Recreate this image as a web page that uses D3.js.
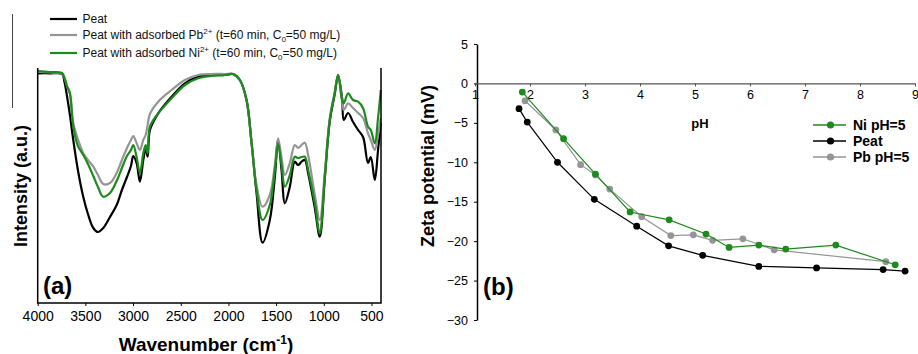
<!DOCTYPE html>
<html>
<head>
<meta charset="utf-8">
<script src="https://cdn.jsdelivr.net/npm/d3@7"></script>
<style>
  body { margin: 0; background: #fff; }
  svg { display: block; font-family: "Liberation Sans", Arial, Helvetica, sans-serif; }
</style>
</head>
<body>
<svg id="chart" width="918" height="354"></svg>
<script>
// ---- Panel (a): FTIR spectra ----
const wavenumbers = [4000, 3871, 3745, 3719, 3693, 3662, 3627, 3575, 3522, 3473, 3417, 3368, 3313, 3242,
  3172, 3117, 3064, 3022, 2998, 2963, 2928, 2893, 2868, 2847, 2823, 2736, 2596, 2456, 2317, 2177, 2037,
  1953, 1880, 1810, 1757, 1705, 1642, 1566, 1513, 1479, 1443, 1408, 1356, 1304, 1269, 1233, 1199, 1164,
  1094, 1042, 989, 937, 885, 850, 808, 790, 745, 693, 640, 588, 536, 507, 465, 431, 402];

const peat = [229.7, 229.7, 229, 221, 207, 188, 163, 131, 106, 89, 75, 71, 75, 86,
  98, 113, 126, 137, 147, 140, 121.3, 143, 154.7, 146.3, 173, 189.7, 206.3, 219.7, 226.3, 228, 228,
  229, 223, 203, 160, 110, 60.3, 83, 126.3, 163, 133, 99.7, 116.3, 141.3, 138, 141.3, 143, 129.7,
  95, 66.3, 125, 182, 209, 228, 205, 183, 190, 181, 173, 166, 140, 146, 123, 153, 180];

const peatPb = [231, 230.5, 229.5, 225, 217, 209, 179.7, 163, 149.7, 143, 136.3, 128, 119, 120,
  130, 143, 155, 163, 167, 160, 153, 163, 168, 178, 189, 201.3, 213, 223, 228, 229, 229,
  229, 223, 203, 160, 118, 96.3, 108, 138, 164.7, 145, 128, 140, 158, 155, 158, 160.3, 148,
  108, 83, 131, 185, 211, 228, 203, 193, 199.7, 195, 190, 185, 169.7, 163, 153, 168, 185];

const peatNi = [232, 231, 230, 225, 217, 209.7, 176.3, 156.3, 148, 139, 127, 116, 106.3, 110,
  122, 135, 147, 153, 158, 146, 129.7, 149.7, 158, 149.7, 176.3, 189.7, 204.7, 218, 224.7, 227, 228,
  229, 223, 203, 160, 113, 83, 98, 133, 159.7, 138, 116.3, 128, 146.3, 145, 146, 146.3, 133,
  100, 69.7, 127, 183, 210, 228, 203, 199.7, 209.7, 203, 201.3, 194.7, 176.3, 173, 159.7, 185, 213];

const wavenumberTicks = [4000, 3500, 3000, 2500, 2000, 1500, 1000, 500];

// ---- Panel (b): zeta potential vs pH ----
const phNi   = [1.86, 2.61, 3.19, 3.82, 4.53, 5.20, 5.62, 6.16, 6.65, 7.56, 8.64];
const zetaNi = [-1.1, -7.0, -11.5, -16.3, -17.3, -19.1, -20.8, -20.5, -21.0, -20.5, -23.0];

const phPeat   = [1.80, 1.95, 2.50, 3.17, 3.94, 4.52, 5.14, 6.16, 7.21, 8.42, 8.82];
const zetaPeat = [-3.2, -4.9, -10.0, -14.7, -18.1, -20.6, -21.8, -23.2, -23.4, -23.6, -23.8];

const phPb   = [1.91, 2.47, 2.92, 3.19, 3.45, 4.03, 4.56, 4.97, 5.32, 5.87, 6.44, 8.47];
const zetaPb = [-2.2, -5.9, -10.3, -11.6, -13.4, -16.9, -19.3, -19.2, -19.9, -19.7, -21.1, -22.6];

const phTicks = [1, 2, 3, 4, 5, 6, 7, 8, 9];
const zetaTicks = [5, 0, -5, -10, -15, -20, -25, -30];

const GREEN = "#1d8a1d";
const GRAY = "#959595";
const BLACK = "#000000";

const svg = d3.select("#chart");

// ================= Panel (a) =================
const xA = d3.scaleLinear().domain([4000, 400]).range([37.7, 381]);
const yA = d3.scaleLinear().domain([0, 235]).range([303, 68]);

const gA = svg.append("g");

// thin border line at far left
gA.append("line").attr("x1", 12.5).attr("x2", 12.5).attr("y1", 14).attr("y2", 108)
  .attr("stroke", "#444").attr("stroke-width", 1);

const lineA = d3.line()
  .x(d => xA(d[0]))
  .y(d => yA(d[1]))
  .curve(d3.curveCatmullRom.alpha(0.5));

[[peat, BLACK], [peatPb, GRAY], [peatNi, GREEN]].forEach(([vals, col]) => {
  gA.append("path")
    .datum(wavenumbers.map((w, i) => [w, vals[i]]))
    .attr("fill", "none")
    .attr("stroke", col)
    .attr("stroke-width", 2.2)
    .attr("stroke-linejoin", "round")
    .attr("d", lineA);
});

// open frame: left, bottom, right
gA.append("path")
  .attr("d", `M${xA(4000)},68V303H381V68`)
  .attr("fill", "none").attr("stroke", "#000").attr("stroke-width", 1.5);

const axisA = gA.append("g")
  .attr("transform", "translate(0,303)")
  .call(d3.axisBottom(xA).tickValues(wavenumberTicks).tickFormat(d3.format("d"))
    .tickSize(3).tickSizeOuter(0).tickPadding(5));
axisA.select(".domain").remove();
axisA.selectAll("text").attr("font-size", 14).attr("fill", "#000")
  .attr("font-family", "Liberation Sans, Arial, sans-serif");
axisA.selectAll("line").attr("stroke", "#000");

// x title
const xt = gA.append("text").attr("x", 206).attr("y", 351).attr("text-anchor", "middle")
  .attr("font-size", 19).attr("font-weight", "bold");
xt.append("tspan").text("Wavenumber (cm");
xt.append("tspan").attr("dy", -7).attr("font-size", 12).text("-1");
xt.append("tspan").attr("dy", 7).text(")");

// y title
gA.append("text").attr("transform", "translate(27,186) rotate(-90)")
  .attr("text-anchor", "middle").attr("font-size", 18).attr("font-weight", "bold")
  .text("Intensity (a.u.)");

gA.append("text").attr("x", 43).attr("y", 294).attr("font-size", 24).attr("font-weight", "bold")
  .text("(a)");

// legend
const legA = [
  { col: BLACK, parts: [["Peat"]] },
  { col: GRAY, parts: [["Peat with adsorbed Pb"], ["2+", "sup"], [" (t=60 min, C"], ["0", "sub"], ["=50 mg/L)"]] },
  { col: GREEN, parts: [["Peat with adsorbed Ni"], ["2+", "sup"], [" (t=60 min, C"], ["0", "sub"], ["=50 mg/L)"]] }
];
const legAY = [19, 35, 53];
legA.forEach((item, i) => {
  const y = legAY[i];
  gA.append("line").attr("x1", 50).attr("x2", 77).attr("y1", y).attr("y2", y)
    .attr("stroke", item.col).attr("stroke-width", 2.2);
  const t = gA.append("text").attr("x", 82.5).attr("y", y + 4.2).attr("font-size", 12).attr("fill", "#111");
  let shift = 0;
  item.parts.forEach(([s, kind]) => {
    const ts = t.append("tspan").text(s);
    let target = 0;
    if (kind === "sup") { target = -5; ts.attr("font-size", 8); }
    if (kind === "sub") { target = 3; ts.attr("font-size", 8); }
    ts.attr("dy", target - shift);
    shift = target;
  });
});

// ================= Panel (b) =================
const xB = d3.scaleLinear().domain([1, 9]).range([475, 915]);
const yB = d3.scaleLinear().domain([-30, 5]).range([320, 44]);

const gB = svg.append("g");

// y axis
const yAxisB = gB.append("g").attr("transform", "translate(477,0)")
  .call(d3.axisLeft(yB).tickValues(zetaTicks).tickSize(3).tickSizeOuter(0).tickPadding(6));
yAxisB.select(".domain").attr("stroke", "#000").attr("stroke-width", 1.5);
yAxisB.selectAll("line").attr("stroke", "#000");
yAxisB.selectAll("text").attr("font-size", 12.5).attr("fill", "#000")
  .attr("font-family", "Liberation Sans, Arial, sans-serif");

// x axis drawn along zeta = 0
const xAxisB = gB.append("g").attr("transform", `translate(0,${yB(0)})`)
  .call(d3.axisBottom(xB).tickValues(phTicks).tickSize(3).tickSizeOuter(0).tickPadding(4));
xAxisB.select(".domain").attr("stroke", "#555").attr("stroke-width", 1.2);
xAxisB.selectAll("line").attr("stroke", "#555");
xAxisB.selectAll("text").attr("font-size", 12.5).attr("fill", "#000")
  .attr("font-family", "Liberation Sans, Arial, sans-serif");

gB.append("text").attr("x", 700).attr("y", 127.5).attr("text-anchor", "middle")
  .attr("font-size", 13).attr("font-weight", "bold").text("pH");

gB.append("text").attr("transform", "translate(434,166) rotate(-90)")
  .attr("text-anchor", "middle").attr("font-size", 18).attr("font-weight", "bold")
  .text("Zeta potential (mV)");

gB.append("text").attr("x", 483).attr("y", 295).attr("font-size", 24).attr("font-weight", "bold")
  .text("(b)");

const lineB = d3.line().x(d => xB(d[0])).y(d => yB(d[1]));

const seriesB = [
  { name: "Peat", ph: phPeat, z: zetaPeat, col: BLACK },
  { name: "Pb pH=5", ph: phPb, z: zetaPb, col: GRAY },
  { name: "Ni pH=5", ph: phNi, z: zetaNi, col: GREEN }
];

seriesB.forEach(s => {
  const pts = s.ph.map((p, i) => [p, s.z[i]]);
  gB.append("path").datum(pts).attr("fill", "none").attr("stroke", s.col)
    .attr("stroke-width", 1.2).attr("d", lineB);
  gB.selectAll(null).data(pts).enter().append("circle")
    .attr("cx", d => xB(d[0])).attr("cy", d => yB(d[1])).attr("r", 3.4)
    .attr("fill", s.col);
});

// legend (b)
const legB = [
  { name: "Ni pH=5", col: GREEN, y: 125 },
  { name: "Peat", col: BLACK, y: 141 },
  { name: "Pb pH=5", col: GRAY, y: 157 }
];
legB.forEach(l => {
  gB.append("line").attr("x1", 813).attr("x2", 846).attr("y1", l.y).attr("y2", l.y)
    .attr("stroke", l.col).attr("stroke-width", 1.5);
  gB.append("circle").attr("cx", 830.5).attr("cy", l.y).attr("r", 3.6).attr("fill", l.col);
  gB.append("text").attr("x", 853).attr("y", l.y + 5).attr("font-size", 14)
    .attr("font-weight", "bold").attr("fill", "#000").text(l.name);
});
</script>
</body>
</html>
